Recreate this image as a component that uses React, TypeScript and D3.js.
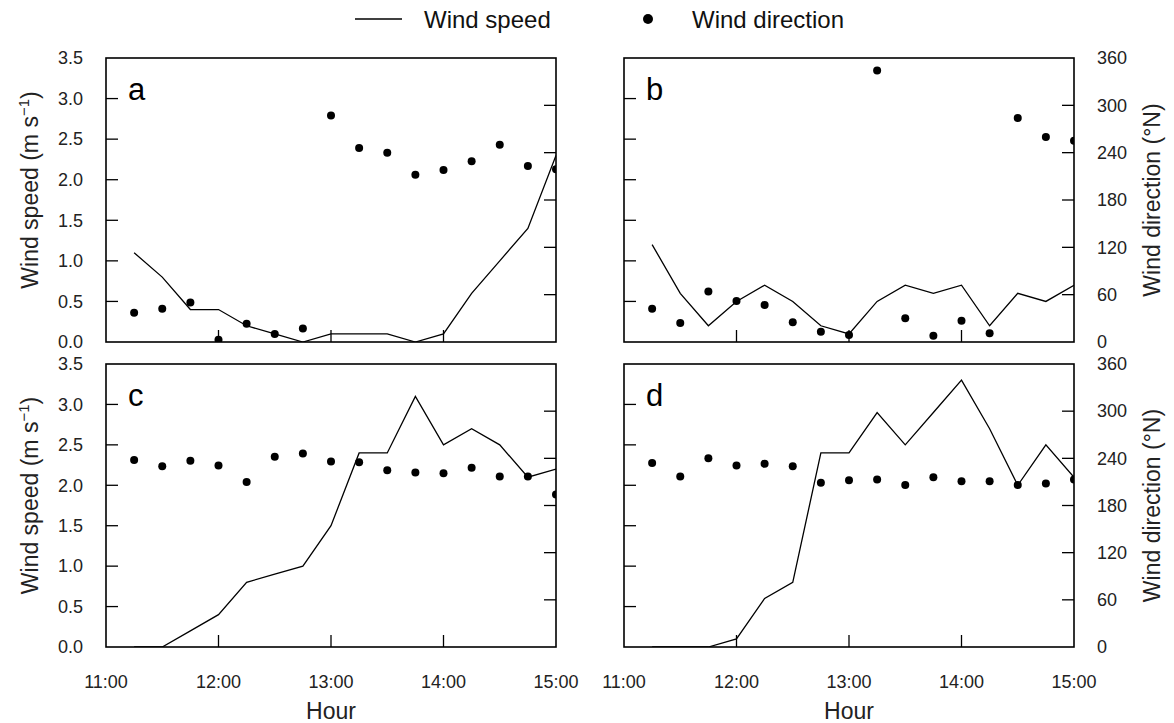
import React from "react";
import * as d3 from "d3";

const times = ["11:15","11:30","11:45","12:00","12:15","12:30","12:45","13:00","13:15","13:30","13:45","14:00","14:15","14:30","14:45","15:00"];
const speedA = [1.1,0.8,0.4,0.4,0.2,0.1,0,0.1,0.1,0.1,0,0.1,0.6,1.0,1.4,2.3];
const dirA = [37,42,50,3,23,10,17,287,246,240,212,218,229,250,223,219];
const speedB = [1.2,0.6,0.2,0.5,0.7,0.5,0.2,0.1,0.5,0.7,0.6,0.7,0.2,0.6,0.5,0.7];
const dirB = [42,24,64,52,47,25,13,9,344,30,8,27,11,284,260,255];
const speedC = [0,0,0.2,0.4,0.8,0.9,1.0,1.5,2.4,2.4,3.1,2.5,2.7,2.5,2.1,2.2];
const dirC = [238,230,237,231,210,242,246,236,235,225,222,221,228,217,217,194];
const speedD = [0,0,0,0.1,0.6,0.8,2.4,2.4,2.9,2.5,2.9,3.3,2.7,2.0,2.5,2.1];
const dirD = [234,217,240,231,233,230,209,212,213,206,216,211,211,206,208,213];

const xTickLabels = ["11:00","12:00","13:00","14:00","15:00"];
const speedTicks = [0,0.5,1,1.5,2,2.5,3,3.5];
const dirTicks = [0,60,120,180,240,300,360];
const panelLetters = ["a","b","c","d"];

const FONT = "'Liberation Sans', Arial, Helvetica, sans-serif";
const toHour = (s: string) => { const [h, m] = s.split(":").map(Number); return h + m / 60; };

const cols = [[106, 556], [624, 1074]];
const rows = [[58, 342], [364, 647]];

const panels = [
  { speed: speedA, dir: dirA, col: 0, row: 0 },
  { speed: speedB, dir: dirB, col: 1, row: 0 },
  { speed: speedC, dir: dirC, col: 0, row: 1 },
  { speed: speedD, dir: dirD, col: 1, row: 1 },
];

function Panel({ p, i }: { p: typeof panels[0]; i: number }) {
  const [x0, x1] = cols[p.col];
  const [y0, y1] = rows[p.row];
  const x = d3.scaleLinear().domain([11, 15]).range([x0, x1]);
  const yS = d3.scaleLinear().domain([0, 3.5]).range([y1, y0]);
  const yD = d3.scaleLinear().domain([0, 360]).range([y1, y0]);
  const hours = times.map(toHour);
  const line = d3.line<number>().x((_, k) => x(hours[k])).y((v) => yS(v));
  const clipId = `clip${i}`;
  const tl = 12;
  return (
    <g>
      <defs>
        <clipPath id={clipId}>
          <rect x={x0} y={y0} width={x1 - x0} height={y1 - y0} />
        </clipPath>
      </defs>
      <g clipPath={`url(#${clipId})`}>
        <path d={line(p.speed) || ""} fill="none" stroke="#000" strokeWidth={1.3} />
        {p.dir.map((v, k) => (
          <circle key={k} cx={x(hours[k])} cy={yD(v)} r={4} fill="#000" />
        ))}
      </g>
      {/* ticks */}
      {speedTicks.slice(1, -1).map((t) => (
        <line key={"ls" + t} x1={x0} x2={x0 + tl} y1={yS(t)} y2={yS(t)} stroke="#000" strokeWidth={1.3} />
      ))}
      {dirTicks.slice(1, -1).map((t) => (
        <line key={"rd" + t} x1={x1 - tl} x2={x1} y1={yD(t)} y2={yD(t)} stroke="#000" strokeWidth={1.3} />
      ))}
      {xTickLabels.slice(1, -1).map((t) => (
        <line key={"xt" + t} x1={x(toHour(t))} x2={x(toHour(t))} y1={y1} y2={y1 - tl} stroke="#000" strokeWidth={1.3} />
      ))}
      <rect x={x0} y={y0} width={x1 - x0} height={y1 - y0} fill="none" stroke="#000" strokeWidth={1.6} />
      <text x={x0 + 22} y={y0 + 42} fontSize={31} fontFamily={FONT}>{panelLetters[i]}</text>
      {p.col === 0 && speedTicks.map((t) => (
        <text key={"lsl" + t} x={83} y={yS(t)} dy="0.35em" textAnchor="end" fontSize={18} fontFamily={FONT} fill="#222">{d3.format(".1f")(t)}</text>
      ))}
      {p.col === 1 && dirTicks.map((t) => (
        <text key={"rdl" + t} x={1097} y={yD(t)} dy="0.35em" textAnchor="start" fontSize={18} fontFamily={FONT} fill="#222">{t}</text>
      ))}
      {p.row === 1 && xTickLabels.map((t) => (
        <text key={"xl" + t} x={x(toHour(t))} y={688} textAnchor="middle" fontSize={18} fontFamily={FONT} fill="#222">{t}</text>
      ))}
      {p.row === 1 && (
        <text x={(x0 + x1) / 2} y={719} textAnchor="middle" fontSize={23} fontFamily={FONT} fill="#222">Hour</text>
      )}
      {p.col === 0 && (
        <text transform={`translate(38,${(y0 + y1) / 2 - 10}) rotate(-90)`} textAnchor="middle" fontSize={23} fontFamily={FONT} fill="#222">
          Wind speed (m s<tspan dy={-9} fontSize={15}>−1</tspan><tspan dy={9}>)</tspan>
        </text>
      )}
      {p.col === 1 && (
        <text transform={`translate(1160,${(y0 + y1) / 2}) rotate(-90)`} textAnchor="middle" fontSize={23} fontFamily={FONT} fill="#222">
          Wind direction (°N)
        </text>
      )}
    </g>
  );
}

export default function App() {
  return (
    <div style={{ position: "absolute", left: 0, top: 0 }}>
      <svg width={1174} height={723} style={{ display: "block", background: "#fff" }}>
        <line x1={355} x2={402} y1={19} y2={19} stroke="#000" strokeWidth={1.5} />
        <text x={424} y={28} fontSize={24} fontFamily={FONT} fill="#111">Wind speed</text>
        <circle cx={648} cy={19} r={5} fill="#000" />
        <text x={692} y={28} fontSize={24} fontFamily={FONT} fill="#111">Wind direction</text>
        {panels.map((p, i) => <Panel key={i} p={p} i={i} />)}
      </svg>
    </div>
  );
}
